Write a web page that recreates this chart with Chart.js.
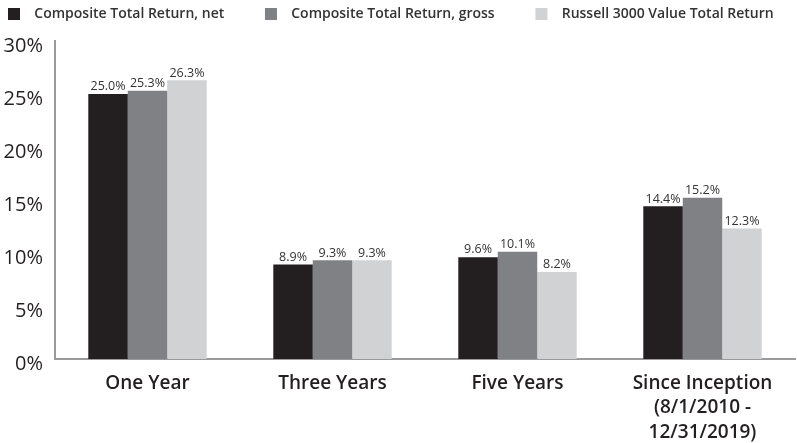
<!DOCTYPE html>
<html>
<head>
<meta charset="utf-8">
<script src="https://cdn.jsdelivr.net/npm/chart.js@4"></script>
<style>
  html, body { margin: 0; padding: 0; background: #fff; }
  #wrap { width: 797px; height: 443px; position: relative; }
</style>
</head>
<body>
<div id="wrap"><canvas id="returnsChart"></canvas></div>
<script>
// Données du graphique
const categories = ['One Year', 'Three Years', 'Five Years', ['Since Inception', '(8/1/2010 -', '12/31/2019)']];
const seriesNames = ['Composite Total Return, net', 'Composite Total Return, gross', 'Russell 3000 Value Total Return'];
const netValues = [25.0, 8.9, 9.6, 14.4];
const grossValues = [25.3, 9.3, 10.1, 15.2];
const russellValues = [26.3, 9.3, 8.2, 12.3];
const yTicks = [0, 5, 10, 15, 20, 25, 30];

const FONT = '"Open Sans", Lato, sans-serif';

// Étiquettes de valeur au-dessus des barres
const valueLabels = {
    id: 'valueLabels',
    afterDatasetsDraw(chart) {
        const ctx = chart.ctx;
        ctx.save();
        ctx.font = '12.5px ' + FONT;
        ctx.fillStyle = '#333';
        ctx.textAlign = 'center';
        ctx.textBaseline = 'bottom';
        chart.data.datasets.forEach((ds, i) => {
            chart.getDatasetMeta(i).data.forEach((bar, j) => {
                ctx.fillText(ds.data[j].toFixed(1) + '%', bar.x, bar.y - 1);
            });
        });
        ctx.restore();
    }
};

function initChart() {
    const el = document.getElementById('returnsChart');
    new Chart(el, {
        type: 'bar',
        data: {
            labels: categories,
            datasets: [
                { label: seriesNames[0], data: netValues, backgroundColor: '#231f20' },
                { label: seriesNames[1], data: grossValues, backgroundColor: '#808184' },
                { label: seriesNames[2], data: russellValues, backgroundColor: '#d1d2d4' }
            ]
        },
        options: {
            responsive: true,
            maintainAspectRatio: false,
            animation: false,
            layout: { padding: { left: 0, right: 2, top: -1, bottom: -14 } },
            datasets: { bar: { barPercentage: 1, categoryPercentage: 0.64 } },
            plugins: {
                tooltip: { enabled: false },
                // sous-titre vide : simple espace entre la légende et le graphique
                subtitle: {
                    display: true,
                    text: '',
                    weight: 500,
                    font: { size: 1, lineHeight: 1 },
                    padding: { top: 0, bottom: 9 }
                },
                legend: {
                    align: 'start',
                    labels: {
                        boxWidth: 12,
                        boxHeight: 12,
                        padding: 8,
                        color: '#333',
                        font: { family: FONT, size: 14, weight: '600' },
                        // espaces pour imiter l'écartement de la légende d'origine
                        generateLabels(chart) {
                            const items = Chart.defaults.plugins.legend.labels.generateLabels(chart);
                            items.forEach((it, i) => {
                                it.text = '  ' + it.text + (i < items.length - 1 ? '         ' : '');
                            });
                            return items;
                        }
                    }
                }
            },
            scales: {
                x: {
                    grid: { display: false, drawTicks: false },
                    border: { display: true, color: '#9a9a9c', width: 2 },
                    ticks: {
                        color: '#231f20',
                        padding: 12,
                        maxRotation: 0,
                        autoSkip: false,
                        font: { family: FONT, size: 19, weight: '600', lineHeight: 1.3 }
                    }
                },
                y: {
                    min: 0,
                    max: 30,
                    afterFit(scale) { scale.width = 55; },
                    afterBuildTicks(scale) { scale.ticks = yTicks.map(v => ({ value: v })); },
                    grid: { display: false, drawTicks: false },
                    border: { display: true, color: '#9a9a9c', width: 2 },
                    ticks: {
                        color: '#231f20',
                        padding: 12,
                        labelOffset: 5,
                        font: { family: FONT, size: 20 },
                        callback: v => v + '%'
                    }
                }
            }
        },
        plugins: [valueLabels]
    });
}

document.addEventListener('DOMContentLoaded', initChart);
</script>
</body>
</html>
